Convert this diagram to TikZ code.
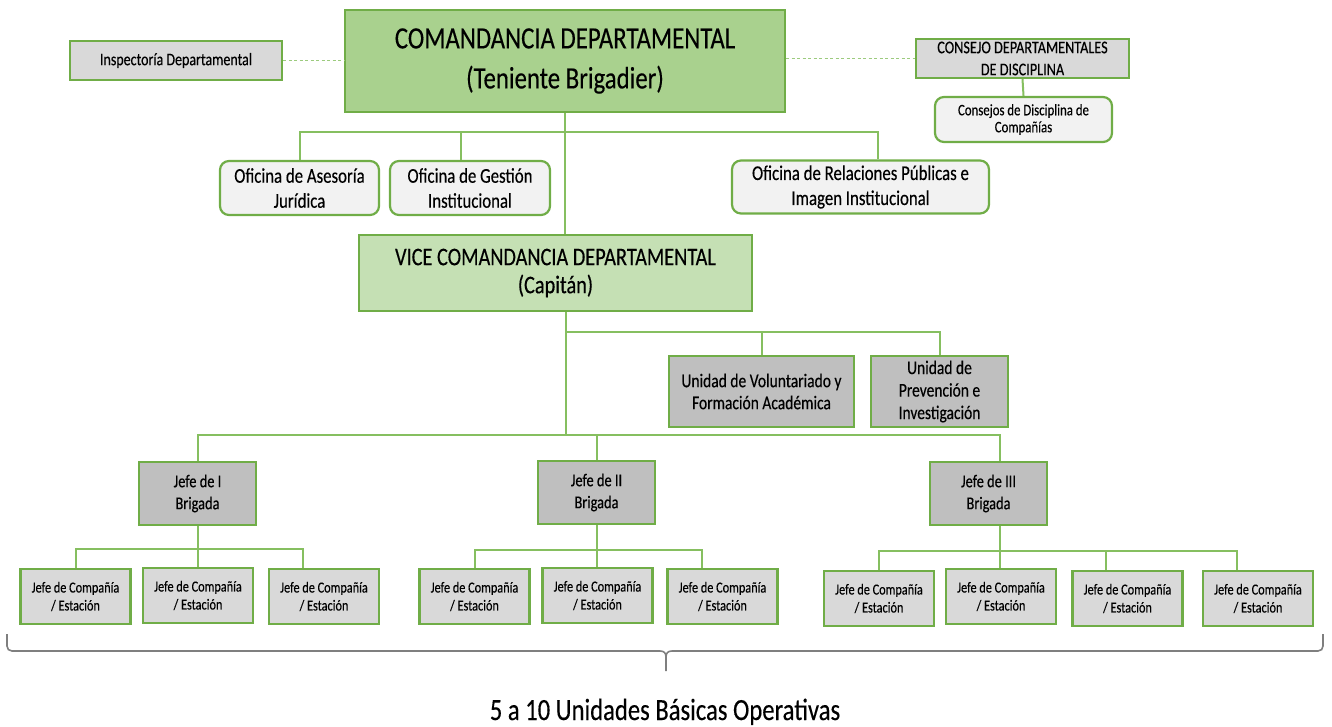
\documentclass[tikz,border=0pt]{standalone}
\usepackage{fontspec}
\setmainfont{Carlito}[FakeStretch=0.8, FakeBold=0.3]
\usepackage{xcolor}
\definecolor{commandGreen}{HTML}{A9D18E}
\definecolor{viceGreen}{HTML}{C5E0B4}
\definecolor{borderGreen}{HTML}{70AD47}
\definecolor{linkGreen}{HTML}{86BF60}
\definecolor{dashGreen}{HTML}{9CCB7E}
\definecolor{paleGray}{HTML}{D9D9D9}
\definecolor{midGray}{HTML}{BFBFBF}
\definecolor{officeGray}{HTML}{F2F2F2}
\definecolor{braceGray}{HTML}{7F7F7F}

\tikzset{
  unitbox/.style={draw=borderGreen, line width=2.2pt, align=center, inner sep=0pt, text=black},
  commandbox/.style={unitbox, fill=commandGreen},
  vicebox/.style={unitbox, fill=viceGreen},
  lightbox/.style={unitbox, fill=paleGray},
  darkbox/.style={unitbox, fill=midGray},
  officebox/.style={unitbox, fill=officeGray, rounded corners=9pt},
  brigadebox/.style={darkbox, minimum width=117pt, minimum height=63pt, font=\fontsize{18}{22}\selectfont},
  ciabox/.style={lightbox, minimum width=110pt, minimum height=55pt, font=\fontsize{15.3}{18}\selectfont},
  link/.style={draw=linkGreen, line width=2pt},
  dotlink/.style={draw=dashGreen, line width=1.8pt, dash pattern=on 3pt off 2.5pt},
  bracket/.style={draw=braceGray, line width=1.6pt}
}

\begin{document}
\begin{tikzpicture}[x=1pt, y=-1pt]
  \useasboundingbox (0,0) rectangle (1332,727);
  % Command level.
  \node[commandbox, minimum width=440pt, minimum height=102pt, font=\fontsize{31}{40}\selectfont]
    (comandancia) at (565,61) {COMANDANCIA DEPARTAMENTAL\\(Teniente Brigadier)};
  \node[lightbox, minimum width=212pt, minimum height=39pt, font=\fontsize{17.5}{21}\selectfont]
    (inspectoria) at (176,60.5) {Inspectoría Departamental};
  \node[lightbox, minimum width=213pt, minimum height=39pt, font=\fontsize{17.8}{22}\selectfont]
    (consejo) at (1022.5,58.5) {CONSEJO DEPARTAMENTALES\\DE DISCIPLINA};
  \node[officebox, minimum width=177pt, minimum height=45pt, font=\fontsize{16}{17}\selectfont]
    (consejosCia) at (1023.5,119.5) {Consejos de Disciplina de\\Compañías};
  % Offices.
  \node[officebox, minimum width=159pt, minimum height=54pt, font=\fontsize{21}{25}\selectfont]
    (asesoria) at (299.5,188) {Oficina de Asesoría\\Jurídica};
  \node[officebox, minimum width=160pt, minimum height=54pt, font=\fontsize{21}{25}\selectfont]
    (gestion) at (470,188) {Oficina de Gestión\\Institucional};
  \node[officebox, minimum width=257pt, minimum height=53pt, font=\fontsize{21}{25}\selectfont]
    (relaciones) at (860.5,187) {Oficina de Relaciones Públicas e\\Imagen Institucional};
  % Vice command and units.
  \node[vicebox, minimum width=393pt, minimum height=76pt, font=\fontsize{25.4}{28}\selectfont]
    (vice) at (555.5,273) {VICE COMANDANCIA DEPARTAMENTAL\\(Capitán)};
  \node[darkbox, minimum width=185pt, minimum height=71pt, font=\fontsize{19.4}{22}\selectfont]
    (voluntariado) at (761.5,391.5) {Unidad de Voluntariado y\\Formación Académica};
  \node[darkbox, minimum width=137pt, minimum height=71pt, font=\fontsize{19.4}{22.5}\selectfont]
    (prevencion) at (939.5,391.5) {Unidad de\\Prevención e\\Investigación};
  % Brigades.
  \node[brigadebox] (brigadaI) at (197.5,493.5) {Jefe de I\\Brigada};
  \node[brigadebox] (brigadaII) at (596.5,492.5) {Jefe de II\\Brigada};
  \node[brigadebox] (brigadaIII) at (988.5,493.5) {Jefe de III\\Brigada};
  % Companies.
  \node[ciabox] (ciaIa) at (75.5,596.5) {Jefe de Compañía\\/ Estación};
  \node[ciabox] (ciaIb) at (198,595.5) {Jefe de Compañía\\/ Estación};
  \node[ciabox] (ciaIc) at (324,596.5) {Jefe de Compañía\\/ Estación};
  \node[ciabox] (ciaIIa) at (474.5,596.5) {Jefe de Compañía\\/ Estación};
  \node[ciabox] (ciaIIb) at (597.5,595.5) {Jefe de Compañía\\/ Estación};
  \node[ciabox] (ciaIIc) at (722.5,596.5) {Jefe de Compañía\\/ Estación};
  \node[ciabox] (ciaIIIa) at (879,598.5) {Jefe de Compañía\\/ Estación};
  \node[ciabox] (ciaIIIb) at (1001,596.5) {Jefe de Compañía\\/ Estación};
  \node[ciabox] (ciaIIIc) at (1127.5,598.5) {Jefe de Compañía\\/ Estación};
  \node[ciabox] (ciaIIId) at (1258,598.5) {Jefe de Compañía\\/ Estación};

  % Dotted advisory links.
  \draw[dotlink] (inspectoria.east) -- (inspectoria.east -| comandancia.west);
  \draw[dotlink] (comandancia.east |- consejo.west) -- (consejo.west);
  \draw[link] (consejo.south) -- (consejosCia.north);
  % Offices bus.
  \coordinate (busTopG) at (461,132);
  \coordinate (busTopR) at (878,132);
  \draw[link] (comandancia.south) -- (comandancia.south |- vice.north);
  \draw[link] (asesoria.north) |- (busTopR) -- (busTopR |- relaciones.north);
  \draw[link] (busTopG) -- (busTopG |- gestion.north);
  % Units bus.
  \coordinate (trunkLow) at (566,435);
  \coordinate (busVice) at (939.5,332);
  \draw[link] (trunkLow |- vice.south) -- (trunkLow);
  \draw[link] (trunkLow |- busVice) -- (busVice) -- (prevencion.north);
  \draw[link] (voluntariado.north) -- (voluntariado.north |- busVice);
  % Brigades bus.
  \coordinate (busBrigR) at (1000,435);
  \draw[link] (brigadaI.north) |- (busBrigR) -- (busBrigR |- brigadaIII.north);
  \draw[link] (brigadaII.north) -- (brigadaII.north |- busBrigR);
  % Company buses.
  \coordinate (busIR) at (303,549);
  \draw[link] (ciaIa.north) |- (busIR) -- (busIR |- ciaIc.north);
  \draw[link] (brigadaI.south) -- (brigadaI.south |- ciaIb.north);
  \coordinate (busIIR) at (702,550);
  \draw[link] (ciaIIa.north) |- (busIIR) -- (busIIR |- ciaIIc.north);
  \draw[link] (brigadaII.south) -- (brigadaII.south |- ciaIIb.north);
  \coordinate (busIIIb) at (1000,551);
  \coordinate (busIIIc) at (1106,551);
  \coordinate (busIIIR) at (1237,551);
  \draw[link] (ciaIIIa.north) |- (busIIIR) -- (busIIIR |- ciaIIId.north);
  \draw[link] (busIIIb |- brigadaIII.south) -- (busIIIb |- ciaIIIb.north);
  \draw[link] (busIIIc) -- (busIIIc |- ciaIIIc.north);

  % Brace and caption.
  \draw[bracket] (7,634) -- (7,646) .. controls (7,649) and (9,651) .. (12,651) -- (660,651)
    .. controls (664,651) and (666,653) .. (666,657) -- (666,671);
  \draw[bracket] (666,657) .. controls (666,653) and (668,651) .. (672,651) -- (1318,651)
    .. controls (1321,651) and (1323,649) .. (1323,646) -- (1323,634);
  \node[font=\fontsize{30.8}{36}\selectfont, anchor=base] (operativas) at (665,720)
    {5 a 10 Unidades Básicas Operativas};
\end{tikzpicture}
\end{document}
